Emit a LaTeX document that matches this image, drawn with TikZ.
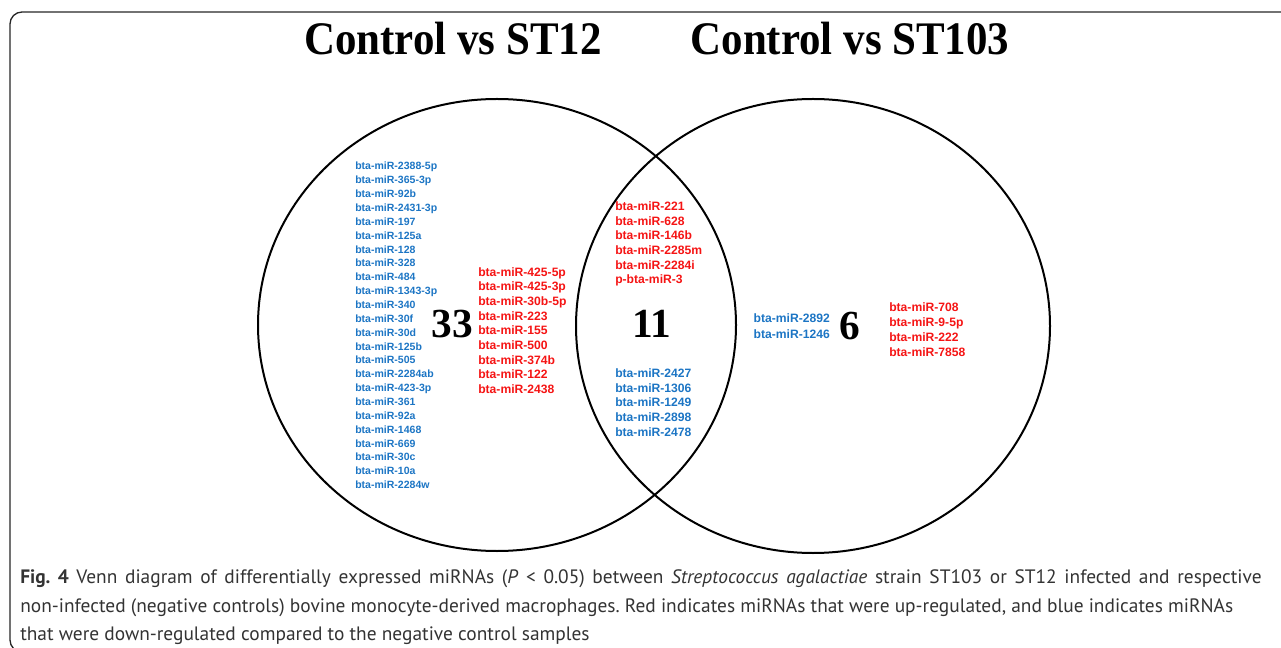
\documentclass[tikz,border=0pt]{standalone}
\usepackage{fontspec}
\setmainfont{PT Sans}
\newfontfamily\titlefont[FakeStretch=0.92]{Liberation Serif}
\newfontfamily\numfont{Liberation Serif}
\newfontfamily\mirfont{Liberation Sans}
\usetikzlibrary{positioning}
\definecolor{downblue}{RGB}{28,117,196}
\definecolor{upred}{RGB}{245,20,20}
\tikzset{
  frame/.style={draw=black!85, line width=1pt, rounded corners=9pt},
  venn/.style={draw=black, line width=1.5pt},
  title/.style={font=\titlefont\bfseries\fontsize{35}{35}\selectfont, inner sep=0pt},
  count/.style={font=\numfont\bfseries\fontsize{31}{31}\selectfont, inner sep=0pt},
  mirlist/.style={font=\mirfont\bfseries\fontsize{9.1}{11}\selectfont, align=left, inner sep=0pt},
  up/.style={mirlist, text=upred},
  down/.style={mirlist, text=downblue},
  caption/.style={font=\fontsize{14.55}{21.4}\selectfont\frenchspacing, text=black!80, align=justify, text width=931pt, inner sep=0pt}
}

\begin{document}
\begin{tikzpicture}[x=0.75pt, y=-0.75pt]
  \useasboundingbox (0,0) rectangle (1281,648);
  \draw[frame] (10,12) rectangle (1300,652);

  % titles
  \node[title] (t12) at (453,39) {Control vs ST12};
  \node[title] (t103) at (850,39) {Control vs ST103};

  % the two sets
  \coordinate (c12) at (497,325);
  \coordinate (c103) at (813,326);
  \draw[venn] (c12) ellipse [x radius=239, y radius=226];
  \draw[venn] (c103) ellipse [x radius=237, y radius=227];

  % ST12 only
  \node[count] (n33) at (452,324) {33};
  \node[down, anchor=west, font=\mirfont\bfseries\fontsize{7.9}{10.4}\selectfont] (dn33) at (355,325.5) {bta-miR-2388-5p\\bta-miR-365-3p\\bta-miR-92b\\bta-miR-2431-3p\\bta-miR-197\\bta-miR-125a\\bta-miR-128\\bta-miR-328\\bta-miR-484\\bta-miR-1343-3p\\bta-miR-340\\bta-miR-30f\\bta-miR-30d\\bta-miR-125b\\bta-miR-505\\bta-miR-2284ab\\bta-miR-423-3p\\bta-miR-361\\bta-miR-92a\\bta-miR-1468\\bta-miR-669\\bta-miR-30c\\bta-miR-10a\\bta-miR-2284w};
  \node[up, anchor=west] (up33) at (478,330.5) {bta-miR-425-5p\\bta-miR-425-3p\\bta-miR-30b-5p\\bta-miR-223\\bta-miR-155\\bta-miR-500\\bta-miR-374b\\bta-miR-122\\bta-miR-2438};

  % shared
  \node[count] (n11) at (652,324) {11};
  \node[up, anchor=west] (up11) at (615,244) {bta-miR-221\\bta-miR-628\\bta-miR-146b\\bta-miR-2285m\\bta-miR-2284i\\p-bta-miR-3};
  \node[down, anchor=west] (dn11) at (615,402.5) {bta-miR-2427\\bta-miR-1306\\bta-miR-1249\\bta-miR-2898\\bta-miR-2478};

  % ST103 only
  \node[count] (n6) at (850,326) {6};
  \node[down, left=7pt of n6, font=\mirfont\bfseries\fontsize{9.1}{11.6}\selectfont] (dn6) {bta-miR-2892\\bta-miR-1246};
  \node[up, anchor=west, font=\mirfont\bfseries\fontsize{9.1}{11.3}\selectfont] (up6) at (889,330) {bta-miR-708\\bta-miR-9-5p\\bta-miR-222\\bta-miR-7858};

  % caption
  \node[caption, anchor=north west] (cap) at (20,569.5) {\textbf{Fig. 4} Venn diagram of differentially expressed miRNAs (\textit{P} < 0.05) between \textit{Streptococcus agalactiae} strain ST103 or ST12 infected and respective\linebreak non-infected (negative controls) bovine monocyte-derived macrophages. Red indicates miRNAs that were up-regulated, and blue indicates miRNAs\\that were down-regulated compared to the negative control samples};
\end{tikzpicture}
\end{document}
